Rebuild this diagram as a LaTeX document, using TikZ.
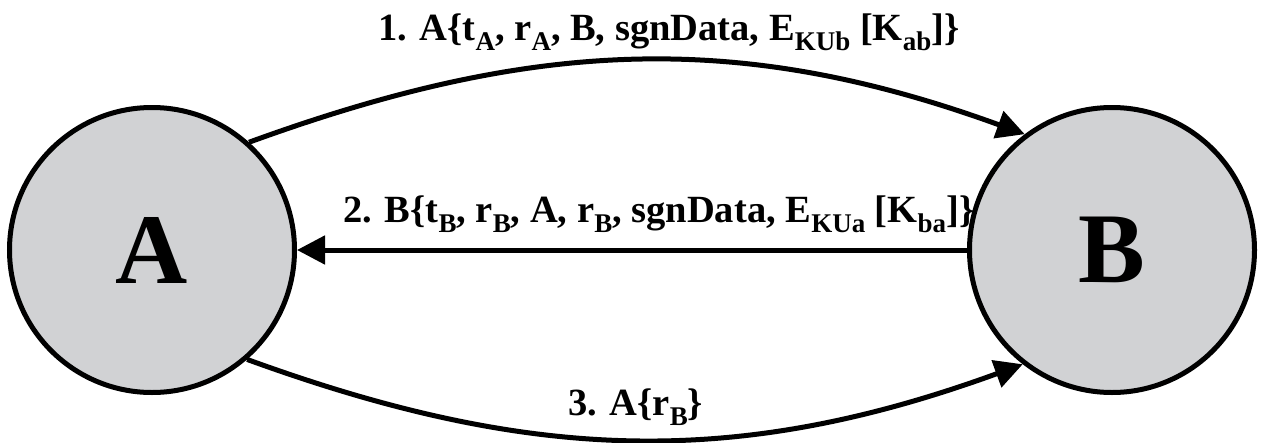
\documentclass[tikz,border=0pt]{standalone}
\usepackage{fontspec}
\setmainfont{Liberation Serif}
\usepackage{tikz}
\usetikzlibrary{arrows.meta, positioning}

\definecolor{nodegray}{RGB}{209,210,212}

% lowered, smaller index for the message labels
\newcommand{\idx}[1]{\raisebox{-10pt}{\fontsize{27}{27}\selectfont #1}}

\begin{document}
\begin{tikzpicture}[
    x=1pt, y=-1pt,
    party/.style={circle, draw, line width=5pt, fill=nodegray, minimum size=285pt, inner sep=0pt,
        font=\fontsize{100}{100}\selectfont\bfseries},
    msg/.style={inner sep=0pt, anchor=base west, font=\fontsize{38.5}{38.5}\selectfont\bfseries},
    arr/.style={-{Triangle[length=28pt, width=28pt]}, line width=5pt}
]
    \useasboundingbox (0,0) rectangle (1267,442);

    % Labels (behind the parties)
    \node[msg] (m1) at (378,40) {1. A\{t\idx{A}, r\idx{A}, B, sgnData, E\idx{KUb} [K\idx{ab}]\}};
    \node[msg] (m2) at (343,222) {2. B\{t\idx{B}, r\idx{B}, A, r\idx{B}, sgnData, E\idx{KUa} [K\idx{ba}]\}};
    \node[msg] (m3) at (568,415) {3. A\{r\idx{B}\}};

    % Parties
    \node[party] (A) at (152,250) {A};
    \node[party] (B) at (1112,250) {B};

    % Messages
    \draw[arr] (A.48) to[out=20, in=160] (B.127);
    \draw[arr] (B.west) -- (A.east);
    \draw[arr] (A.-49) to[out=-20, in=-160] (B.-128);
\end{tikzpicture}
\end{document}
